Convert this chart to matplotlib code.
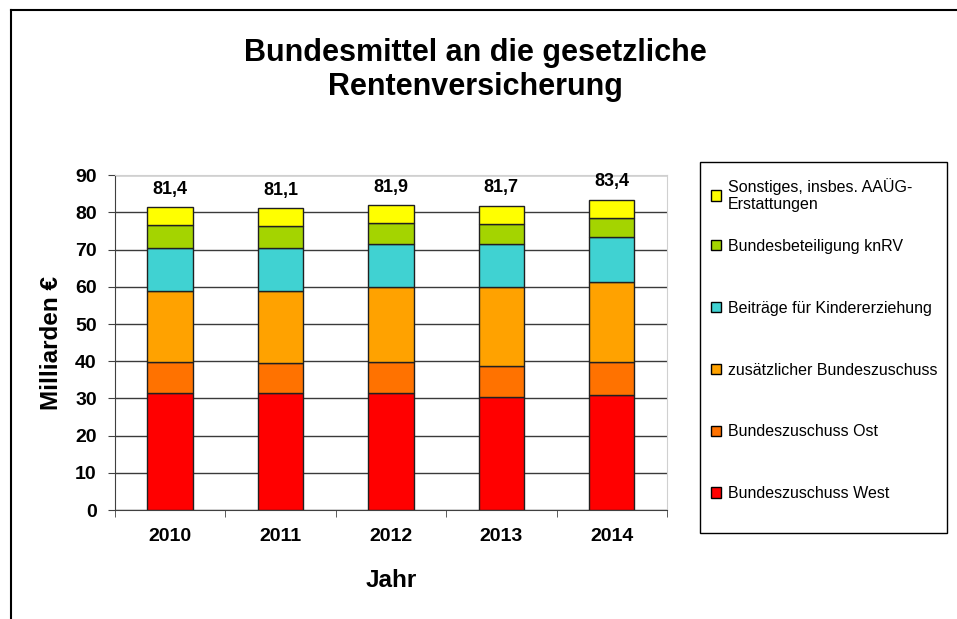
import numpy as np
import matplotlib.pyplot as plt
from matplotlib.patches import Patch, Rectangle

plt.rcParams['font.family'] = ['Liberation Sans', 'DejaVu Sans']

# Daten (Milliarden Euro)
jahre = ['2010', '2011', '2012', '2013', '2014']
west = [31.4, 31.4, 31.4, 30.3, 30.9]
ost = [8.5, 8.1, 8.5, 8.5, 9.0]
zusaetzlich = [19.1, 19.5, 20.0, 21.1, 21.4]
kinder = [11.5, 11.5, 11.6, 11.6, 12.0]
knrv = [6.1, 5.8, 5.7, 5.4, 5.3]
sonstiges = [4.8, 4.8, 4.7, 4.8, 4.8]
summen = ['81,4', '81,1', '81,9', '81,7', '83,4']

serien = [west, ost, zusaetzlich, kinder, knrv, sonstiges]
namen = ['Bundeszuschuss West', 'Bundeszuschuss Ost', 'zusätzlicher Bundeszuschuss',
         'Beiträge für Kindererziehung', 'Bundesbeteiligung knRV',
         'Sonstiges, insbes. AAÜG-\nErstattungen']
farben = ['#ff0000', '#ff7200', '#ffa200', '#40d2d2', '#a4d400', '#ffff00']

fig = plt.figure(figsize=(9.57, 6.19), dpi=100)
ax = fig.add_axes([0.120, 0.176, 0.577, 0.541])

x = np.arange(len(jahre))
unten = np.zeros(len(jahre))
for werte, name, farbe in zip(serien, namen, farben):
    ax.bar(x, werte, 0.41, bottom=unten, color=farbe, edgecolor='#202020',
           linewidth=1.0, label=name, zorder=3)
    unten += np.array(werte)

for xi, gesamt, text in zip(x, unten, summen):
    ax.text(xi, gesamt + 2.6, text, ha='center', va='bottom', fontsize=13,
            fontweight='bold')

ax.set_xlim(-0.5, len(jahre) - 0.5)
ax.set_ylim(0, 90)
ax.set_yticks(range(0, 91, 10))
ax.set_xticks(x)
ax.set_xticklabels(jahre, fontsize=14, fontweight='bold')
ax.set_xticks(np.arange(-0.5, len(jahre)), minor=True)
ax.tick_params(axis='x', which='major', length=0, pad=13)
ax.tick_params(axis='x', which='minor', length=5, color='#404040')
ax.tick_params(axis='y', length=5, color='#404040', labelsize=14, pad=8)
for lbl in ax.get_yticklabels():
    lbl.set_fontweight('bold')

ax.grid(axis='y', color='#3a3a3a', linewidth=1.0, zorder=0)
ax.spines['left'].set_color('#404040')
ax.spines['bottom'].set_color('#404040')
ax.spines['top'].set_color('#d0d0d0')
ax.spines['right'].set_color('#d0d0d0')

ax.set_ylabel('Milliarden €', fontsize=17.5, fontweight='bold', labelpad=9)
ax.set_xlabel('Jahr', fontsize=17.5, fontweight='bold', labelpad=17)

fig.text(0.497, 0.887, 'Bundesmittel an die gesetzliche\nRentenversicherung',
         ha='center', va='center', fontsize=22, fontweight='bold', linespacing=1.17)

# Legende: Rahmen separat, Einträge ohne Rahmen
fig.add_artist(Rectangle((700 / 957, 1 - 533 / 619), 247 / 957, 371 / 619,
                         transform=fig.transFigure, facecolor='white',
                         edgecolor='black', linewidth=1.0, zorder=1))
handles = [Patch(facecolor=f, edgecolor='black', linewidth=1.0) for f in farben]
leg_args = dict(loc='upper left', fontsize=11.5, frameon=False,
                handlelength=0.6, handleheight=0.6, handletextpad=0.45,
                labelspacing=2.93, borderpad=0, borderaxespad=0)
leg1 = fig.legend(handles[5:], namen[5:], bbox_to_anchor=(711 / 957, 1 - 178 / 619),
                  **leg_args)
leg2 = fig.legend(handles[4::-1], namen[4::-1],
                  bbox_to_anchor=(711 / 957, 1 - 239 / 619), **leg_args)
leg1.set_zorder(2)
leg2.set_zorder(2)

# Rahmen oben und links
fig.add_artist(plt.Line2D([0.011, 1.0], [0.984, 0.984], color='black', linewidth=1.5))
fig.add_artist(plt.Line2D([0.011, 0.011], [0.0, 0.984], color='black', linewidth=1.5))

fig.savefig('out.png', dpi=100)
